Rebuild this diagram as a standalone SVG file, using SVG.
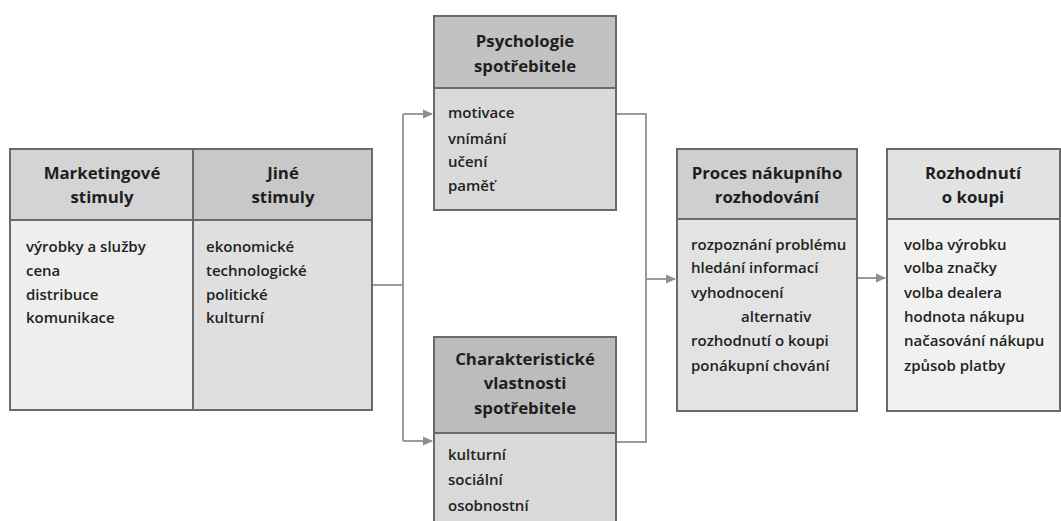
<svg xmlns="http://www.w3.org/2000/svg" width="1061" height="521" viewBox="0 0 1061 521">
<defs>
<marker id="arr" markerWidth="10" markerHeight="10" refX="9" refY="5" orient="auto" markerUnits="userSpaceOnUse">
<path d="M0,0.5 L10,5 L0,9.5 Z" fill="#8f8f8f"/>
</marker>
<style>
.box{stroke:#6a6a6a;stroke-width:2}
.h{font-family:"Open Sans","Liberation Sans",sans-serif;font-weight:700;font-size:16.8px;fill:#1e1e1e;text-anchor:middle}
.b{font-family:"Open Sans","Liberation Sans",sans-serif;font-weight:600;font-size:15px;fill:#222}
.c{fill:none;stroke:#9a9a9a;stroke-width:2}
</style>
</defs>
<rect width="1061" height="521" fill="#ffffff"/>

<g id="connectors">
<path class="c" d="M372,285 H403"/>
<path class="c" d="M403,114 V441"/>
<path class="c" d="M403,114 H432" marker-end="url(#arr)"/>
<path class="c" d="M403,441 H432" marker-end="url(#arr)"/>
<path class="c" d="M616,114 H646 V442 H616"/>
<path class="c" d="M646,279 H675" marker-end="url(#arr)"/>
<path class="c" d="M857,278 H885" marker-end="url(#arr)"/>
</g>

<g id="marketingove-stimuly">
<rect class="box" x="10" y="149" width="183" height="71" fill="#d4d4d4"/>
<rect class="box" x="10" y="220" width="183" height="190" fill="#eeeeee"/>
<text class="h" x="102" y="179">Marketingové</text>
<text class="h" x="102" y="203">stimuly</text>
<text class="b" x="26" y="252">výrobky a služby</text>
<text class="b" x="26" y="276">cena</text>
<text class="b" x="26" y="300">distribuce</text>
<text class="b" x="26" y="323">komunikace</text>
</g>

<g id="jine-stimuly">
<rect class="box" x="193" y="149" width="179" height="71" fill="#c8c8c8"/>
<rect class="box" x="193" y="220" width="179" height="190" fill="#dfdfdf"/>
<text class="h" x="283" y="179">Jiné</text>
<text class="h" x="283" y="203">stimuly</text>
<text class="b" x="206" y="252">ekonomické</text>
<text class="b" x="206" y="276">technologické</text>
<text class="b" x="206" y="300">politické</text>
<text class="b" x="206" y="323">kulturní</text>
</g>

<g id="psychologie">
<rect class="box" x="434" y="16" width="182" height="72" fill="#c2c2c2"/>
<rect class="box" x="434" y="88" width="182" height="122" fill="#dadada"/>
<text class="h" x="525" y="47">Psychologie</text>
<text class="h" x="525" y="72">spotřebitele</text>
<text class="b" x="448" y="118">motivace</text>
<text class="b" x="448" y="144">vnímání</text>
<text class="b" x="448" y="167">učení</text>
<text class="b" x="448" y="191">paměť</text>
</g>

<g id="charakteristicke">
<rect class="box" x="434" y="337" width="182" height="96" fill="#bcbcbc"/>
<rect class="box" x="434" y="433" width="182" height="95" fill="#d9d9d9"/>
<text class="h" x="525" y="365">Charakteristické</text>
<text class="h" x="525" y="389">vlastnosti</text>
<text class="h" x="525" y="414">spotřebitele</text>
<text class="b" x="448" y="460">kulturní</text>
<text class="b" x="448" y="485">sociální</text>
<text class="b" x="448" y="511">osobnostní</text>
</g>

<g id="proces">
<rect class="box" x="677" y="149" width="180" height="70" fill="#cfcfcf"/>
<rect class="box" x="677" y="219" width="180" height="192" fill="#e3e3e3"/>
<text class="h" x="767" y="179">Proces nákupního</text>
<text class="h" x="767" y="203">rozhodování</text>
<text class="b" x="691" y="250">rozpoznání problému</text>
<text class="b" x="691" y="273">hledání informací</text>
<text class="b" x="691" y="298">vyhodnocení</text>
<text class="b" x="741" y="322">alternativ</text>
<text class="b" x="691" y="346">rozhodnutí o koupi</text>
<text class="b" x="691" y="371">ponákupní chování</text>
</g>

<g id="rozhodnuti">
<rect class="box" x="887" y="149" width="173" height="70" fill="#e2e2e2"/>
<rect class="box" x="887" y="219" width="173" height="192" fill="#f1f1f1"/>
<text class="h" x="973" y="179">Rozhodnutí</text>
<text class="h" x="973" y="203">o koupi</text>
<text class="b" x="904" y="250">volba výrobku</text>
<text class="b" x="904" y="273">volba značky</text>
<text class="b" x="904" y="298">volba dealera</text>
<text class="b" x="904" y="322">hodnota nákupu</text>
<text class="b" x="904" y="346">načasování nákupu</text>
<text class="b" x="904" y="371">způsob platby</text>
</g>
</svg>
